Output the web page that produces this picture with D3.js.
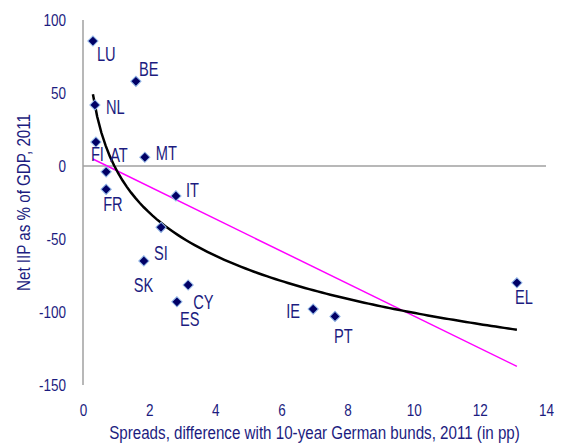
<!DOCTYPE html>
<html>
<head>
<meta charset="utf-8">
<script src="https://cdn.jsdelivr.net/npm/d3@7"></script>
<style>
  body { margin: 0; background: #fff; }
  text { font-family: "Liberation Sans", Arial, sans-serif; fill: #1c1c80; }
</style>
</head>
<body>
<div class="scatter"></div>
<script>
var svgWidth = 574;
var svgHeight = 443;

var margin = {
  top: 20,
  right: 28,
  bottom: 58,
  left: 83
};

var width = svgWidth - margin.left - margin.right;
var height = svgHeight - margin.top - margin.bottom;

// the original uses a narrow face; squeeze Liberation Sans to match
var tickSqueeze = 0.82;
var labelSqueeze = 0.75;
var titleSqueeze = 0.82;

// countries, spreads (pp) and net IIP (% of GDP)
var countries = ["LU", "BE", "NL", "FI", "AT", "MT", "FR", "IT", "SI", "SK", "CY", "ES", "IE", "PT", "EL"];
var spreads = [0.30, 1.60, 0.36, 0.39, 0.70, 1.87, 0.70, 2.81, 2.36, 1.84, 3.18, 2.84, 6.96, 7.62, 13.12];
var netIIP = [85.6, 58, 41.8, 16.4, -4, 6, -16, -20.5, -42, -65, -81.5, -93, -98, -103, -80];

var xTicks = [0, 2, 4, 6, 8, 10, 12, 14];
var yTicks = [100, 50, 0, -50, -100, -150];

// where each country label sits relative to its marker (px)
var labelOffset = {
  LU: [4, 13], BE: [3, -12], NL: [11, 2], FI: [-5, 12], AT: [4, -17],
  MT: [11, -4], FR: [-3, 15], IT: [10, -6], SI: [-7, 26], SK: [-10, 24],
  CY: [5, 17], ES: [3, 17], IE: [-27, 2], PT: [-1, 20], EL: [-2, 14]
};

var data = countries.map(function(c, i) {
  return { country: c, spread: spreads[i], iip: netIIP[i] };
});

var svg = d3.select(".scatter")
  .append("svg")
  .attr("width", svgWidth)
  .attr("height", svgHeight);

var chartGroup = svg.append("g")
  .attr("transform", `translate(${margin.left}, ${margin.top})`);

var xLinearScale = d3.scaleLinear().domain([0, 14]).range([0, width]);
var yLinearScale = d3.scaleLinear().domain([-150, 100]).range([height, 0]);

// least squares fits, the same ones the spreadsheet trendlines use
function fit(xs, ys) {
  var mx = d3.mean(xs), my = d3.mean(ys);
  var sxy = d3.sum(xs, (x, i) => (x - mx) * (ys[i] - my));
  var sxx = d3.sum(xs, x => (x - mx) * (x - mx));
  var b = sxy / sxx;
  return { a: my - b * mx, b: b };
}

var linFit = fit(spreads, netIIP);
var logFit = fit(spreads.map(Math.log), netIIP);
var xExtent = d3.extent(spreads);

// axes: labels only, lines drawn by hand so the x axis sits at zero
var leftAxis = d3.axisLeft(yLinearScale)
  .tickValues(yTicks)
  .tickFormat(d => String(d))
  .tickSize(0)
  .tickPadding(17 / tickSqueeze);
var bottomAxis = d3.axisBottom(xLinearScale)
  .tickValues(xTicks)
  .tickFormat(d => String(d))
  .tickSize(0)
  .tickPadding(19);

chartGroup.append("g")
  .attr("transform", `translate(0, ${height})`)
  .call(bottomAxis)
  .call(g => g.select(".domain").remove())
  .attr("font-family", null)
  .selectAll("text")
  .attr("font-size", 16.5)
  .attr("fill", "#1c1c80")
  .attr("transform", `scale(${tickSqueeze},1)`);

chartGroup.append("g")
  .call(leftAxis)
  .call(g => g.select(".domain").remove())
  .attr("font-family", null)
  .selectAll("text")
  .attr("font-size", 16.5)
  .attr("fill", "#1c1c80")
  .attr("transform", `scale(${tickSqueeze},1)`);

chartGroup.append("line")
  .attr("x1", 0).attr("x2", 0)
  .attr("y1", 0).attr("y2", height)
  .attr("stroke", "#a0a0a0")
  .attr("stroke-width", 1.5);

chartGroup.append("line")
  .attr("x1", 0).attr("x2", width)
  .attr("y1", yLinearScale(0)).attr("y2", yLinearScale(0))
  .attr("stroke", "#a0a0a0")
  .attr("stroke-width", 1.5);

// trend lines
var line = d3.line()
  .x(d => xLinearScale(d[0]))
  .y(d => yLinearScale(d[1]));

chartGroup.append("path")
  .datum(xExtent.map(x => [x, linFit.a + linFit.b * x]))
  .attr("d", line)
  .attr("fill", "none")
  .attr("stroke", "#ff00ff")
  .attr("stroke-width", 1.5);

var curveXs = d3.range(0, 101).map(i => xExtent[0] + (xExtent[1] - xExtent[0]) * i / 100);
chartGroup.append("path")
  .datum(curveXs.map(x => [x, logFit.a + logFit.b * Math.log(x)]))
  .attr("d", line)
  .attr("fill", "none")
  .attr("stroke", "#000")
  .attr("stroke-width", 2.5);

// markers
chartGroup.selectAll(".marker")
  .data(data)
  .enter()
  .append("path")
  .attr("class", "marker")
  .attr("d", d3.symbol(d3.symbolSquare, 52))
  .attr("transform", d => `translate(${xLinearScale(d.spread)}, ${yLinearScale(d.iip)}) rotate(45)`)
  .attr("fill", "#000066")
  .attr("stroke", "#8fb4e6")
  .attr("stroke-width", 1);

// country labels
chartGroup.selectAll(".label")
  .data(data)
  .enter()
  .append("text")
  .attr("class", "label")
  .attr("transform", function(d) {
    var lx = xLinearScale(d.spread) + labelOffset[d.country][0];
    var ly = yLinearScale(d.iip) + labelOffset[d.country][1];
    return `translate(${lx}, ${ly}) scale(${labelSqueeze},1)`;
  })
  .attr("dy", "0.36em")
  .attr("font-size", 19.5)
  .text(d => d.country);

// axis titles
chartGroup.append("text")
  .attr("transform", `translate(${30 - margin.left}, ${height / 2}) rotate(-90) scale(${titleSqueeze},1)`)
  .attr("text-anchor", "middle")
  .attr("font-size", 18.5)
  .text("Net IIP as % of GDP, 2011");

chartGroup.append("text")
  .attr("transform", `translate(${width / 2}, ${height + 54}) scale(${titleSqueeze},1)`)
  .attr("text-anchor", "middle")
  .attr("font-size", 18.5)
  .text("Spreads, difference with 10-year German bunds, 2011 (in pp)");
</script>
</body>
</html>
